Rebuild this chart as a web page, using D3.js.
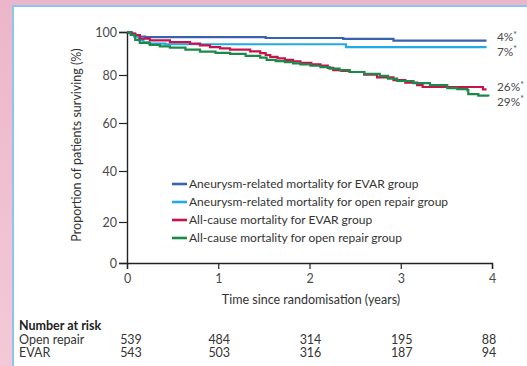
<!DOCTYPE html>
<html>
<head>
<meta charset="utf-8">
<script src="https://cdn.jsdelivr.net/npm/d3@7/dist/d3.min.js"></script>
<style>
  html, body { margin: 0; padding: 0; }
  body { width: 527px; height: 366px; overflow: hidden; }
  svg { display: block; font-family: Lato, "Open Sans", sans-serif; }
</style>
</head>
<body>
<svg id="chart" width="527" height="366"></svg>
<script>
// Kaplan-Meier survival estimates (time in years, survival in %)
const aneurysmEvar = [
  [0, 100], [0.02, 99.6], [0.05, 99.0], [0.09, 98.4], [0.14, 97.9], [0.2, 97.6],
  [1.52, 97.2], [2.37, 96.8], [2.92, 96.0], [3.94, 96.0]
];
const aneurysmOpen = [
  [0, 100], [0.04, 99.3], [0.08, 97.8], [0.13, 96.2], [0.18, 95.2], [0.24, 94.6],
  [0.42, 94.3], [2.4, 93.0], [3.94, 93.0]
];
const allCauseEvar = [
  [0, 100], [0.05, 99.3], [0.09, 98.6], [0.14, 96.9], [0.25, 96.1], [0.47, 95.3],
  [0.69, 94.6], [0.8, 93.8], [0.91, 93.0], [1.02, 92.4], [1.13, 91.8], [1.35, 91.0],
  [1.46, 90.2], [1.52, 89.3], [1.57, 88.4], [1.65, 87.7], [1.73, 87.0], [1.82, 86.3],
  [1.9, 85.6], [2.02, 85.0], [2.12, 84.4], [2.2, 83.3], [2.26, 82.3], [2.35, 81.9],
  [2.44, 81.4], [2.6, 80.2], [2.74, 79.0], [2.92, 77.9], [3.05, 76.8], [3.18, 75.8],
  [3.24, 75.0], [3.9, 74.0], [3.94, 74.0]
];
const allCauseOpen = [
  [0, 100], [0.04, 98.6], [0.09, 96.3], [0.14, 94.9], [0.25, 94.0], [0.36, 93.3],
  [0.47, 92.7], [0.64, 91.8], [0.8, 90.9], [0.97, 90.3], [1.13, 89.8], [1.3, 88.9],
  [1.46, 88.1], [1.53, 87.0], [1.63, 86.5], [1.73, 86.0], [1.82, 85.4], [1.9, 84.9],
  [2.01, 84.3], [2.12, 83.7], [2.22, 83.0], [2.33, 82.3], [2.44, 81.4], [2.6, 80.5],
  [2.77, 79.6], [2.86, 78.5], [2.96, 77.5], [3.14, 76.6], [3.32, 75.8], [3.51, 74.5],
  [3.62, 74.1], [3.73, 73.7], [3.74, 72.0], [3.85, 71.4], [3.96, 71.0]
];

const seriesNames = [
  "Aneurysm-related mortality for EVAR group",
  "Aneurysm-related mortality for open repair group",
  "All-cause mortality for EVAR group",
  "All-cause mortality for open repair group"
];
const seriesColors = ["#3a62ae", "#22aae2", "#c8124c", "#1b8a48"];
const endLabels = ["4%", "7%", "26%", "29%"];

const xTicks = [0, 1, 2, 3, 4];
const yTicks = [0, 20, 40, 60, 80, 100];

const riskGroups = ["Open repair", "EVAR"];
const riskOpen = [539, 484, 314, 195, 88];
const riskEvar = [543, 503, 316, 187, 94];

const svg = d3.select("#chart");

// page background and framed panel
const defs = svg.append("defs");
const grad = defs.append("linearGradient").attr("id", "bg").attr("x1", 0).attr("y1", 0).attr("x2", 0).attr("y2", 1);
grad.append("stop").attr("offset", "0%").attr("stop-color", "#ecb6ca");
grad.append("stop").attr("offset", "100%").attr("stop-color", "#f3c9d7");
svg.append("rect").attr("width", 527).attr("height", 366).attr("fill", "url(#bg)");
svg.append("rect").attr("x", 13).attr("y", 6).attr("width", 540).attr("height", 380)
  .attr("fill", "#ffffff").attr("stroke", "#8cc6f0").attr("stroke-width", 2);

const x = d3.scaleLinear().domain([0, 4]).range([127, 492]);
const y = d3.scaleLinear().domain([0, 20, 40, 60, 80, 100]).range([263, 222, 171, 123, 75, 32]);

const textColor = "#4a4a4a";

// axes
const gx = svg.append("g").attr("transform", `translate(0,${y(0)})`)
  .call(d3.axisBottom(x).tickValues(xTicks).tickFormat(d3.format("d")).tickSize(6).tickPadding(5));
const gy = svg.append("g").attr("transform", `translate(${x(0)},0)`)
  .call(d3.axisLeft(y).tickValues(yTicks).tickFormat(d3.format("d")).tickSize(8).tickPadding(2));
[gx, gy].forEach(g => {
  g.select(".domain").attr("stroke", "#222").attr("stroke-width", 1.4);
  g.selectAll(".tick line").attr("stroke", "#222").attr("stroke-width", 1.2);
  g.selectAll(".tick text").attr("fill", textColor).attr("font-size", 12.5)
    .attr("font-family", "Lato, 'Open Sans', sans-serif");
});

// axis titles
svg.append("text").attr("x", 311).attr("y", 304).attr("text-anchor", "middle")
  .attr("font-size", 12.5).attr("fill", "#333").text("Time since randomisation (years)");
svg.append("text").attr("transform", "translate(81,145) rotate(-90)").attr("text-anchor", "middle")
  .attr("font-size", 12.5).attr("fill", "#333").text("Proportion of patients surviving (%)");

// survival curves
const line = d3.line().x(d => x(d[0])).y(d => y(d[1])).curve(d3.curveStepAfter);
const curves = [aneurysmEvar, aneurysmOpen, allCauseEvar, allCauseOpen];
svg.append("g").selectAll("path").data(curves).join("path")
  .attr("d", line).attr("fill", "none")
  .attr("stroke", (d, i) => seriesColors[i]).attr("stroke-width", 2.2);

// end-of-curve mortality labels
const endY = [41, 55.5, 91, 105.5];
endLabels.forEach((t, i) => {
  const txt = svg.append("text").attr("x", 497).attr("y", endY[i])
    .attr("font-size", 11.8).attr("fill", textColor).text(t);
  txt.append("tspan").attr("dy", -3.5).attr("font-size", 8.5).text("*");
});

// legend
const legend = svg.append("g");
seriesNames.forEach((name, i) => {
  const ly = 184 + i * 18;
  legend.append("line").attr("x1", 172).attr("x2", 187).attr("y1", ly).attr("y2", ly)
    .attr("stroke", seriesColors[i]).attr("stroke-width", 2.6);
  legend.append("text").attr("x", 189).attr("y", ly + 4.3).attr("font-size", 12)
    .attr("fill", "#333").text(name);
});

// number at risk table
svg.append("text").attr("x", 19).attr("y", 330).attr("font-size", 12.5).attr("font-weight", "bold")
  .attr("fill", "#222").text("Number at risk");
[riskOpen, riskEvar].forEach((row, r) => {
  const ry = 343.5 + r * 13.5;
  svg.append("text").attr("x", 19).attr("y", ry).attr("font-size", 12.5).attr("fill", "#333").text(riskGroups[r]);
  svg.append("g").selectAll("text").data(row).join("text")
    .attr("x", (d, i) => x(xTicks[i]) + (i === 0 ? 4 : i === 4 ? -3 : 1))
    .attr("y", ry).attr("text-anchor", "middle").attr("font-size", 12.5).attr("fill", "#333")
    .text(d => d);
});
</script>
</body>
</html>
